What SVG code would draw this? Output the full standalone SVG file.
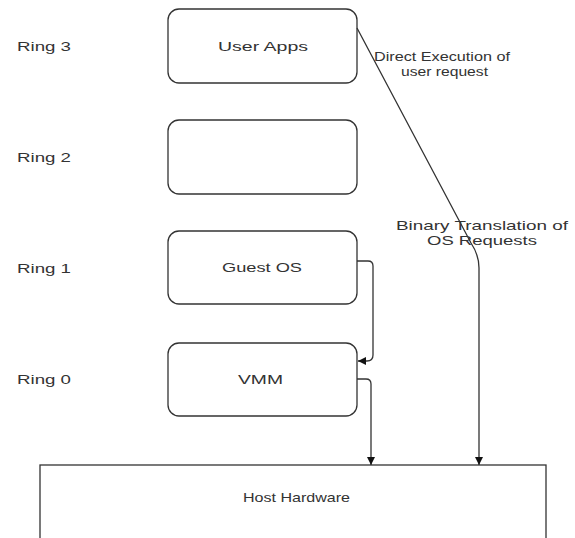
<svg xmlns="http://www.w3.org/2000/svg" width="575" height="538" viewBox="0 0 575 538">
<style>
text{font-family:"Liberation Sans",Arial,sans-serif;font-size:13px;fill:#333}
.box{fill:#fff;stroke:#333;stroke-width:1.3}
.c{fill:none;stroke:#333;stroke-width:1.3}
.m{text-anchor:middle}
</style>
<defs>
<marker id="ah" viewBox="0 0 10 10" refX="10" refY="5" markerWidth="8" markerHeight="8" markerUnits="userSpaceOnUse" orient="auto">
<path d="M0,0 L10,5 L0,10 Z" fill="#111"/>
</marker>
</defs>
<rect width="575" height="538" fill="#fff"/>
<g id="labels">
<text x="17" y="51" textLength="54" lengthAdjust="spacingAndGlyphs">Ring 3</text>
<text x="17" y="162" textLength="54" lengthAdjust="spacingAndGlyphs">Ring 2</text>
<text x="17" y="273" textLength="54" lengthAdjust="spacingAndGlyphs">Ring 1</text>
<text x="17" y="384" textLength="54" lengthAdjust="spacingAndGlyphs">Ring 0</text>
</g>
<g id="user-apps">
<rect class="box" x="168" y="9" width="189" height="74" rx="11"/>
<text x="218" y="51" textLength="90" lengthAdjust="spacingAndGlyphs">User Apps</text>
</g>
<g id="ring2-box">
<rect class="box" x="168" y="120" width="189" height="74" rx="11"/>
</g>
<g id="guest-os">
<rect class="box" x="168" y="231" width="189" height="73" rx="11"/>
<text x="222" y="272" textLength="80" lengthAdjust="spacingAndGlyphs">Guest OS</text>
</g>
<g id="vmm">
<rect class="box" x="168" y="343" width="189" height="73" rx="11"/>
<text x="238" y="384" textLength="45" lengthAdjust="spacingAndGlyphs">VMM</text>
</g>
<g id="host-hardware">
<rect class="box" x="40" y="465" width="506" height="100"/>
<text x="243" y="502" textLength="107" lengthAdjust="spacingAndGlyphs">Host Hardware</text>
</g>
<g id="connectors">
<path class="c" d="M357,261 H368 Q373,261 373,266 V355 Q373,361 367,361 H358" marker-end="url(#ah)"/>
<path class="c" d="M357,379 H366 Q371,379 371,384 V465" marker-end="url(#ah)"/>
<path class="c" d="M357,28 L471,243 Q479,255 479,268 V465" marker-end="url(#ah)"/>
</g>
<g id="edge-labels">
<text x="374" y="61" textLength="136" lengthAdjust="spacingAndGlyphs">Direct Execution of</text>
<text x="401" y="76" textLength="87" lengthAdjust="spacingAndGlyphs">user request</text>
<text x="396" y="230" textLength="172" lengthAdjust="spacingAndGlyphs">Binary Translation of</text>
<text x="427" y="245" textLength="110" lengthAdjust="spacingAndGlyphs">OS Requests</text>
</g>
</svg>
